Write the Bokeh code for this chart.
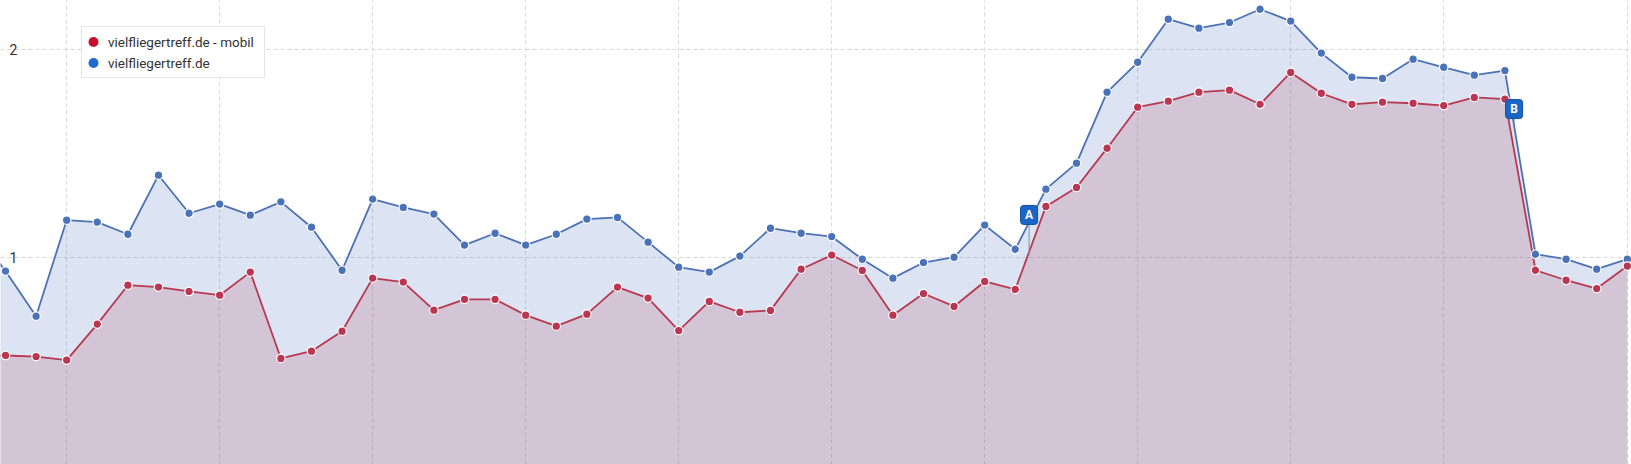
from bokeh.plotting import figure
from bokeh.models import ColumnDataSource, FixedTicker, Legend, LegendItem, Range1d
from bokeh.core.properties import value
from bokeh.embed import file_html
from bokeh.resources import INLINE

# ---- data -------------------------------------------------------------
week = list(range(-1, 54))
desktop = [1.13, 0.936, 0.719, 1.181, 1.171, 1.113, 1.397, 1.214, 1.258, 1.205,
           1.269, 1.147, 0.940, 1.282, 1.242, 1.210, 1.061, 1.118, 1.061, 1.113,
           1.186, 1.194, 1.075, 0.955, 0.931, 1.008, 1.142, 1.118, 1.102, 0.993,
           0.902, 0.977, 1.003, 1.157, 1.041, 1.330, 1.455, 1.796, 1.940, 2.147,
           2.104, 2.131, 2.195, 2.138, 1.984, 1.868, 1.862, 1.955, 1.916, 1.878,
           1.900, 1.017, 0.993, 0.945, 0.993]
mobil = [0.53, 0.530, 0.525, 0.508, 0.681, 0.868, 0.859, 0.838, 0.820, 0.931,
         0.516, 0.551, 0.647, 0.902, 0.883, 0.748, 0.800, 0.800, 0.724, 0.671,
         0.729, 0.859, 0.806, 0.650, 0.790, 0.738, 0.747, 0.945, 1.013, 0.939,
         0.724, 0.828, 0.766, 0.886, 0.848, 1.247, 1.338, 1.527, 1.724, 1.753,
         1.796, 1.806, 1.738, 1.891, 1.791, 1.738, 1.748, 1.743, 1.732, 1.771,
         1.763, 0.940, 0.892, 0.852, 0.960]
series_names = ["vielfliegertreff.de - mobil", "vielfliegertreff.de"]
x_grid_ticks = [2, 7, 12, 17, 22, 27, 32, 37, 42, 47, 53]
y_tick_values = [1, 2]
y_tick_labels = ["1", "2"]
flag_x = [33.45, 49.3]
flag_y = [1.206, 1.715]
flag_stem_bottom = [1.011, 1.64]
flag_text = ["A", "B"]

# ---- figure -------------------------------------------------------------
W, H = 1631, 464
p = figure(width=W, height=H, output_backend="svg", toolbar_location=None,
           x_range=Range1d(-0.163, 53.137), y_range=Range1d(0.006, 2.237),
           min_border=0, outline_line_color=None, background_fill_color="white")
p.xaxis.visible = False
p.yaxis.visible = False
p.xgrid.ticker = FixedTicker(ticks=x_grid_ticks)
p.ygrid.ticker = FixedTicker(ticks=y_tick_values)
for g in (p.xgrid, p.ygrid):
    g.grid_line_color = "#d8d8d8"
    g.grid_line_dash = "4 3"
    g.grid_line_width = 1

src = ColumnDataSource(dict(x=week, desktop=desktop, mobil=mobil,
                            zero=[0] * len(week)))

p.varea(x="x", y1="zero", y2="desktop", source=src,
        fill_color="#4472c4", fill_alpha=0.19)
p.varea(x="x", y1="zero", y2="mobil", source=src,
        fill_color="#b8536d", fill_alpha=0.22)

p.line(x="x", y="desktop", source=src, line_color="#4d71b5", line_width=1.8)
p.line(x="x", y="mobil", source=src, line_color="#b8384f", line_width=1.8)
p.scatter(x="x", y="desktop", source=src, size=8.5, fill_color="#4a72b8",
          line_color="white", line_width=1.2)
p.scatter(x="x", y="mobil", source=src, size=8.5, fill_color="#bb3650",
          line_color="white", line_width=1.2)

# y tick labels inside the plot
p.text(x=[-0.163] * len(y_tick_values), y=y_tick_values, text=y_tick_labels,
       x_offset=9, text_align="left", text_baseline="middle",
       text_font=value("Roboto"), text_font_size="14px", text_color="#333333")

# flags
fsrc = ColumnDataSource(dict(x=flag_x, y=flag_y, y0=flag_stem_bottom, t=flag_text))
p.segment(x0="x", y0="y0", x1="x", y1="y", source=fsrc,
          line_color="#8090a8", line_width=1)
p.rect(x="x", y="y", width=17, height=19, width_units="screen",
       height_units="screen", source=fsrc, fill_color="#1a66c8",
       line_color="#0f4fa0", line_width=1, border_radius=3)
p.text(x="x", y="y", text="t", source=fsrc, text_align="center",
       text_baseline="middle", text_color="white", text_font=value("Roboto"),
       text_font_style="bold", text_font_size="12px")

# legend (dummy renderers carry the legend dot colours)
nan = float("nan")
r_m = p.scatter(x=[nan], y=[nan], marker="circle", size=10,
                fill_color="#c8102e", line_color="#c8102e", line_width=4.4)
r_d = p.scatter(x=[nan], y=[nan], marker="circle", size=10,
                fill_color="#1d6bd0", line_color="#1d6bd0", line_width=4.4)
legend = Legend(items=[LegendItem(label=series_names[0], renderers=[r_m]),
                       LegendItem(label=series_names[1], renderers=[r_d])],
                location=(81, 386), orientation="vertical",
                label_text_font="Roboto", label_text_font_size="13.5px",
                label_text_color="#333333", glyph_width=14, glyph_height=21,
                label_height=20, spacing=0, padding=4, margin=0,
                label_standoff=8, label_width=152, border_line_color="#cccccc",
                border_line_width=1, background_fill_color="white",
                background_fill_alpha=1.0)
p.add_layout(legend, "center")

open("out.html", "w").write(file_html(p, INLINE))
